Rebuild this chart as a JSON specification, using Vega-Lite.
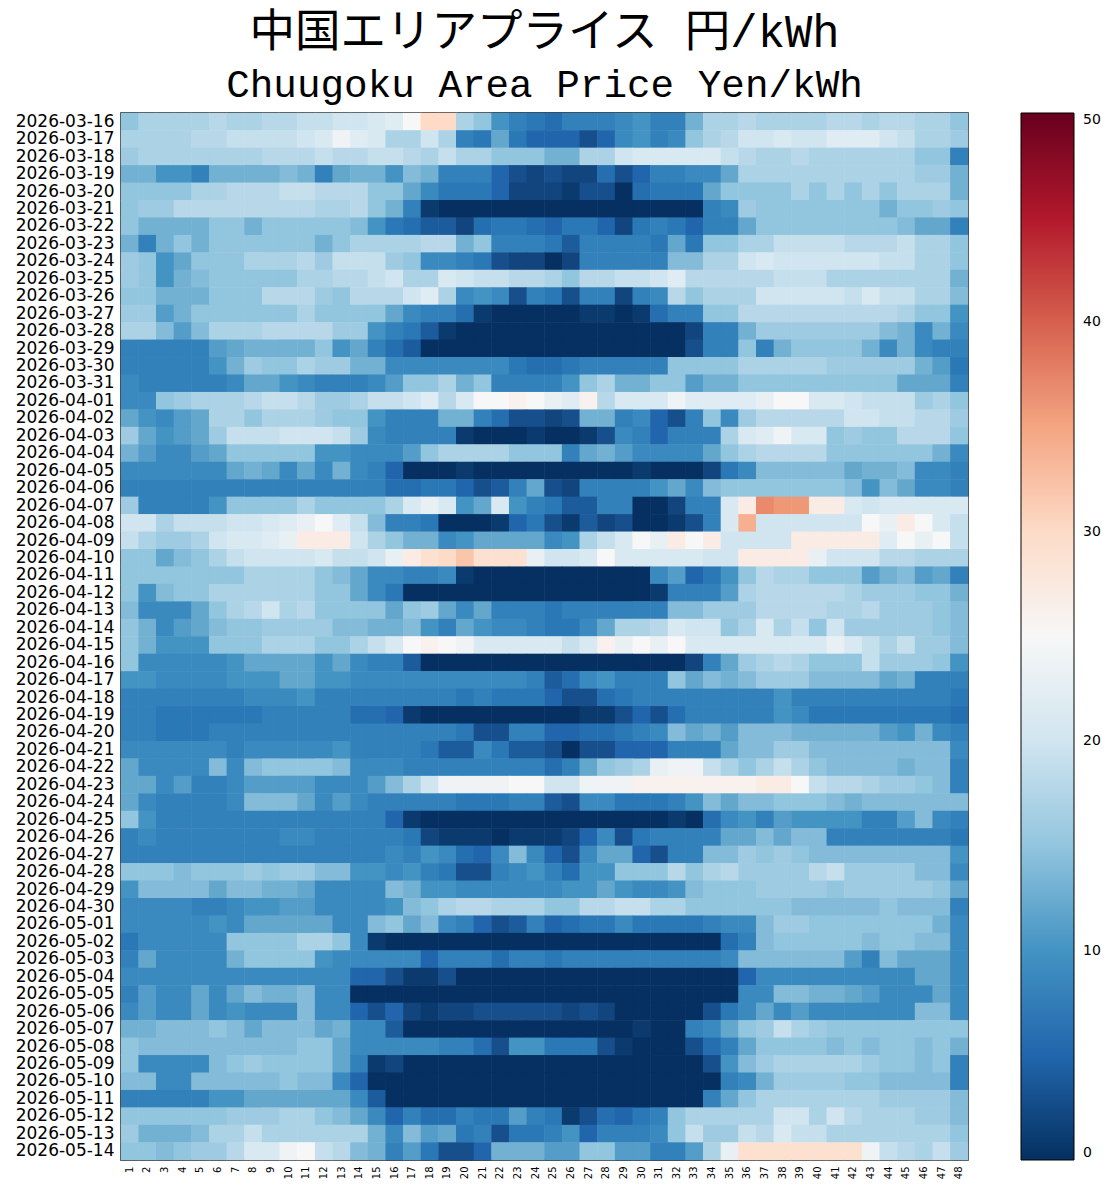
{"$schema":"https://vega.github.io/schema/vega-lite/v6.json","width":847,"height":1047,"autosize":{"type":"none"},"padding":{"left":121,"top":113,"right":142,"bottom":29},"background":"white","view":{"stroke":"black","strokeWidth":1.5},
"title":{"text":"中国エリアプライス 円/kWh","subtitle":"Chuugoku Area Price Yen/kWh","font":"Liberation Mono, Noto Sans CJK JP","fontSize":45.5,"fontWeight":"normal","color":"black","subtitleFont":"Liberation Mono","subtitleFontSize":39.3,"subtitleColor":"black","subtitlePadding":9,"anchor":"middle","offset":7},
"data":{"values":[
{"d":"2026-03-16","v":[15,17,17,17,17,18,17,17,18,18,19,19,20,20,21,22,25,30,30,17,15,10,8,7,6,8,8,8,9,10,8,8,13,17,17,18,17,17,17,17,18,18,17,18,18,17,17,15]},
{"d":"2026-03-17","v":[17,17,17,17,18,18,19,19,19,19,20,21,24,22,21,17,17,20,17,8,7,12,7,5,5,5,3,5,9,10,8,9,15,17,18,20,20,21,20,20,22,22,22,20,19,17,17,16]},
{"d":"2026-03-18","v":[16,17,17,17,17,17,17,17,18,18,18,19,18,18,19,19,18,17,19,17,17,15,15,15,13,13,17,17,20,21,21,21,21,21,19,18,17,17,18,17,17,17,17,17,17,15,15,8]},
{"d":"2026-03-19","v":[13,13,10,10,8,13,13,13,13,14,13,8,12,13,13,10,14,13,8,8,8,5,3,2,3,2,2,6,3,5,8,8,9,9,12,17,17,17,17,17,17,17,17,17,17,16,16,13]},
{"d":"2026-03-20","v":[15,15,15,15,17,17,18,18,18,19,19,18,18,18,15,15,12,9,7,7,7,5,2,2,2,1,3,3,0,6,7,7,7,12,15,15,15,15,17,15,17,15,17,15,17,17,17,13]},
{"d":"2026-03-21","v":[15,16,16,18,18,18,18,18,18,18,18,17,17,18,15,13,8,1,0,0,0,0,0,0,0,0,0,0,0,0,0,0,0,8,9,16,15,15,15,15,15,15,15,13,15,15,16,15]},
{"d":"2026-03-22","v":[15,13,13,13,13,15,15,13,15,15,15,15,15,14,10,7,6,4,4,2,6,7,7,6,5,7,7,5,2,7,8,7,5,8,8,12,15,15,15,15,15,15,15,15,14,12,12,8]},
{"d":"2026-03-23","v":[13,8,13,15,13,15,15,15,15,15,15,13,15,17,17,17,17,18,18,13,15,8,8,8,7,4,8,8,8,8,7,12,7,15,15,17,17,19,19,19,19,18,18,18,19,17,17,15]},
{"d":"2026-03-24","v":[16,15,10,12,15,15,15,17,17,17,18,16,19,19,19,16,15,9,9,8,7,3,2,2,0,2,8,8,8,8,8,14,14,17,17,20,21,20,20,20,20,20,20,19,19,17,17,15]},
{"d":"2026-03-25","v":[16,15,10,13,14,15,15,15,15,15,17,17,18,18,19,20,17,17,21,20,19,19,18,18,17,15,18,18,19,19,20,22,18,18,18,18,18,19,19,19,17,17,17,17,17,17,17,13]},
{"d":"2026-03-26","v":[15,15,13,13,13,15,15,15,18,18,18,16,15,18,18,18,20,22,17,9,10,9,3,8,7,3,8,8,2,8,9,18,15,17,17,17,20,20,20,20,20,19,21,19,19,17,17,14]},
{"d":"2026-03-27","v":[16,16,11,13,15,15,15,15,15,15,17,15,15,15,15,12,9,8,8,6,1,0,0,0,0,0,1,1,0,1,6,8,8,15,15,18,18,18,18,18,18,18,18,18,17,15,15,10]},
{"d":"2026-03-28","v":[17,17,14,11,14,17,17,17,18,18,18,18,16,16,10,8,7,4,1,0,0,0,0,0,0,0,0,0,0,0,0,0,2,8,8,13,16,16,16,16,16,16,16,14,13,9,13,9]},
{"d":"2026-03-29","v":[8,8,8,8,8,11,12,13,13,13,13,15,10,12,8,6,4,0,0,0,0,0,0,0,0,0,0,0,0,0,0,0,3,8,8,15,8,13,15,15,15,15,13,9,13,9,8,8]},
{"d":"2026-03-30","v":[8,8,8,8,8,10,13,16,15,15,17,16,16,13,13,9,9,9,9,9,9,9,7,6,6,7,8,8,8,8,8,15,15,15,15,17,17,17,17,17,16,16,16,16,16,13,11,7]},
{"d":"2026-03-31","v":[9,8,8,8,8,8,9,12,12,10,9,8,8,8,9,11,15,15,17,13,15,8,8,8,8,10,15,17,13,13,15,15,11,13,13,15,15,15,15,15,15,15,15,15,12,12,12,8]},
{"d":"2026-04-01","v":[9,9,15,16,17,17,17,18,19,19,18,16,16,17,19,19,20,22,18,21,25,25,26,25,23,22,26,18,21,21,21,24,22,22,22,22,23,25,25,21,21,20,19,19,19,16,17,15]},
{"d":"2026-04-02","v":[12,10,9,11,12,17,17,15,17,17,17,16,15,15,10,8,8,8,13,13,8,6,3,3,2,3,13,13,8,9,5,3,8,15,9,16,18,18,18,18,18,20,20,19,19,18,18,16]},
{"d":"2026-04-03","v":[16,12,10,11,12,16,19,19,19,20,20,20,19,16,9,8,8,8,8,1,0,0,0,1,0,0,1,3,9,8,5,8,8,8,17,21,22,24,21,21,15,16,15,15,18,18,18,15]},
{"d":"2026-04-04","v":[13,11,9,9,11,12,15,15,15,15,15,10,10,9,9,9,11,15,17,17,17,17,15,15,15,8,12,13,11,9,9,9,9,12,15,17,18,18,18,18,15,15,15,15,15,15,13,9]},
{"d":"2026-04-05","v":[9,9,9,9,9,9,12,13,12,9,12,9,13,9,8,5,0,0,0,1,0,0,0,0,0,0,0,0,0,1,0,0,0,2,7,9,14,14,14,14,14,12,13,13,14,9,9,8]},
{"d":"2026-04-06","v":[8,8,8,8,8,8,8,8,8,8,8,8,8,8,8,6,6,7,7,5,3,4,8,12,3,2,8,8,8,8,10,12,9,14,15,15,15,15,15,15,15,14,10,14,12,9,9,8]},
{"d":"2026-04-07","v":[16,8,8,8,8,10,15,15,15,15,17,15,15,15,15,17,21,23,21,10,12,21,10,8,7,4,4,8,8,0,0,2,8,8,21,27,37,36,36,27,27,21,20,21,21,21,21,21]},
{"d":"2026-04-08","v":[20,20,17,19,19,19,20,20,21,22,23,25,22,19,14,8,8,7,0,0,0,1,5,7,3,1,4,2,3,0,0,1,3,8,21,34,20,20,20,20,20,20,25,23,27,25,21,19]},
{"d":"2026-04-09","v":[19,17,16,16,17,20,21,21,22,23,27,27,27,20,17,15,13,13,9,10,12,12,12,12,9,10,17,19,21,25,23,27,25,27,20,20,20,20,27,27,27,27,27,22,25,23,25,19]},
{"d":"2026-04-10","v":[15,15,12,14,15,17,19,20,20,20,20,21,19,19,20,23,27,29,30,32,29,29,29,23,20,20,21,25,21,21,21,21,21,20,20,27,27,27,27,23,20,20,20,18,18,17,17,17]},
{"d":"2026-04-11","v":[15,15,15,15,15,15,15,17,17,17,17,15,14,12,9,9,8,8,9,1,0,0,0,0,0,0,0,0,0,0,9,11,5,7,10,15,18,17,17,15,15,15,11,13,14,11,12,8]},
{"d":"2026-04-12","v":[15,10,14,15,15,17,17,17,17,17,17,15,15,12,9,7,0,0,0,0,0,0,0,0,0,0,0,0,0,0,1,8,8,8,11,17,18,18,18,18,18,17,16,16,16,15,15,13]},
{"d":"2026-04-13","v":[14,9,9,9,12,15,17,18,20,17,18,15,15,15,15,12,15,16,12,9,12,8,8,8,7,8,8,8,8,8,8,14,14,16,16,16,18,18,18,18,17,17,18,16,16,16,15,14]},
{"d":"2026-04-14","v":[15,13,9,11,12,14,15,15,16,16,16,16,14,14,13,13,14,10,8,12,10,9,9,8,7,7,9,12,17,17,18,21,20,20,15,17,21,17,19,15,20,16,16,16,16,16,15,14]},
{"d":"2026-04-15","v":[15,13,10,10,10,15,15,15,17,17,17,15,15,17,19,21,25,26,25,24,21,21,21,21,21,19,21,26,23,25,23,25,21,21,21,21,21,21,21,21,23,21,19,17,19,16,16,14]},
{"d":"2026-04-16","v":[15,9,9,9,9,9,10,12,12,12,12,10,12,9,8,8,4,0,0,0,0,0,0,0,0,0,0,0,0,0,0,0,2,8,12,16,17,18,17,15,15,15,19,16,16,16,15,10]},
{"d":"2026-04-17","v":[10,10,9,9,9,9,10,10,10,12,12,10,10,9,9,9,9,9,9,9,9,9,9,8,4,6,9,10,8,8,8,15,12,14,13,14,16,16,16,14,14,14,14,12,13,8,8,8]},
{"d":"2026-04-18","v":[8,8,8,8,8,8,8,9,9,9,10,8,8,8,8,8,8,8,8,7,8,7,7,7,5,3,3,6,7,8,8,8,8,8,8,8,8,10,8,8,8,8,8,8,8,8,8,7]},
{"d":"2026-04-19","v":[8,8,7,7,7,7,7,7,8,8,8,8,8,6,6,5,1,0,0,0,0,0,0,0,0,0,1,1,3,5,3,6,8,8,8,8,8,10,9,7,7,7,7,7,7,7,7,6]},
{"d":"2026-04-20","v":[8,8,7,7,7,8,8,8,8,8,8,8,8,8,8,8,8,8,8,7,3,3,8,8,5,5,6,6,7,8,9,14,12,13,11,14,14,14,13,13,13,13,13,11,10,13,9,8]},
{"d":"2026-04-21","v":[9,9,9,9,9,9,8,9,9,9,9,9,10,8,8,8,8,7,4,4,9,7,4,4,3,0,3,3,5,5,5,8,8,8,12,14,14,16,16,14,14,14,14,14,14,14,14,9]},
{"d":"2026-04-22","v":[12,9,9,9,9,14,9,14,15,15,15,15,14,9,9,9,8,8,8,8,8,8,8,8,6,8,12,15,16,17,23,24,24,19,17,15,17,19,17,15,14,14,14,14,13,14,14,8]},
{"d":"2026-04-23","v":[12,12,9,11,8,8,9,11,11,11,11,9,9,9,11,14,17,20,24,24,24,24,25,25,20,20,24,24,24,26,26,26,26,26,26,26,27,27,25,19,18,18,17,16,16,15,14,8]},
{"d":"2026-04-24","v":[12,9,8,8,8,8,9,14,14,14,12,9,11,9,8,8,8,8,8,7,7,7,8,8,4,3,9,9,7,7,7,8,10,14,12,14,14,15,15,15,14,13,14,14,14,14,14,14]},
{"d":"2026-04-25","v":[15,10,8,8,8,8,8,8,8,8,8,8,8,8,8,5,1,0,0,0,0,0,0,0,0,0,0,0,0,0,0,1,0,6,9,10,8,11,10,10,10,10,8,8,11,14,9,8]},
{"d":"2026-04-26","v":[8,9,8,8,8,8,8,8,8,9,9,8,8,8,8,8,7,2,1,1,1,0,1,1,1,2,5,9,3,7,8,8,8,8,12,12,14,12,14,14,8,8,8,8,8,8,8,7]},
{"d":"2026-04-27","v":[8,8,8,8,8,8,8,8,8,8,8,8,8,8,8,9,8,10,9,6,5,9,14,9,5,3,9,12,12,5,3,8,8,14,14,16,15,16,15,14,14,14,14,14,14,14,14,10]},
{"d":"2026-04-28","v":[15,15,15,14,15,15,15,16,15,16,16,14,14,10,10,9,10,8,7,3,3,8,9,10,8,6,10,10,15,15,15,18,15,17,18,16,16,16,16,18,19,16,16,16,16,14,14,9]},
{"d":"2026-04-29","v":[10,14,14,14,14,12,14,14,13,13,12,9,9,9,9,14,13,10,10,9,9,9,9,9,9,10,10,12,10,9,9,10,14,15,15,15,16,16,16,16,15,16,16,16,16,16,15,12]},
{"d":"2026-04-30","v":[9,9,9,9,8,8,9,10,10,11,11,9,9,9,9,10,14,15,17,18,18,17,17,17,15,15,18,18,19,19,17,17,15,15,15,15,15,15,14,14,14,14,14,15,14,14,14,8]},
{"d":"2026-05-01","v":[9,9,9,9,9,10,9,12,12,12,12,12,9,9,14,15,12,14,9,8,5,3,4,8,5,6,7,7,9,7,7,7,7,8,9,9,14,16,16,15,15,15,15,15,15,15,13,9]},
{"d":"2026-05-02","v":[7,9,9,9,9,9,15,15,15,15,17,17,15,9,1,0,0,0,0,0,0,0,0,0,0,0,0,0,0,0,0,0,0,0,6,8,14,15,15,15,15,15,14,15,15,14,14,9]},
{"d":"2026-05-03","v":[8,12,9,9,9,9,13,15,15,15,15,10,9,9,9,9,9,5,8,8,8,6,8,8,7,8,8,8,8,8,8,8,8,8,9,14,14,14,14,14,14,11,8,14,12,12,12,9]},
{"d":"2026-05-04","v":[9,9,9,9,9,9,9,9,9,9,9,9,9,5,5,3,1,1,3,0,0,0,0,0,0,0,0,0,0,0,0,0,0,0,0,5,9,9,9,9,9,9,9,9,9,12,12,9]},
{"d":"2026-05-05","v":[8,11,9,9,12,9,12,14,13,13,14,9,9,0,0,0,0,0,0,0,0,0,0,0,0,0,0,0,0,0,0,0,0,0,0,9,9,14,14,13,13,12,11,9,9,9,12,9]},
{"d":"2026-05-06","v":[9,11,9,9,12,9,10,9,9,9,14,9,9,5,3,5,2,1,2,2,3,3,3,3,3,2,3,2,0,0,0,0,0,3,7,9,12,9,11,9,9,9,9,9,9,14,14,9]},
{"d":"2026-05-07","v":[13,13,14,14,14,15,14,12,14,14,14,12,13,9,9,4,0,0,0,0,0,0,0,0,0,0,0,0,0,1,0,0,8,9,12,15,16,19,17,16,15,15,15,15,15,15,15,15]},
{"d":"2026-05-08","v":[15,14,14,14,14,14,14,14,14,14,15,15,12,9,9,9,9,9,8,8,6,3,10,10,7,7,7,3,1,0,0,0,3,6,8,12,15,15,15,15,14,15,14,15,15,14,15,13]},
{"d":"2026-05-09","v":[15,9,9,9,9,14,15,16,15,15,15,15,12,8,1,2,0,0,0,0,0,0,0,0,0,0,0,0,0,0,0,0,0,3,10,14,16,17,17,17,17,17,16,15,15,14,15,8]},
{"d":"2026-05-10","v":[14,14,9,9,14,14,14,14,14,15,14,14,9,5,0,0,0,0,0,0,0,0,0,0,0,0,0,0,0,0,0,0,0,0,8,9,13,16,16,16,16,15,15,14,14,14,14,8]},
{"d":"2026-05-11","v":[8,8,8,8,8,10,10,12,12,12,12,12,12,9,4,0,0,0,0,0,0,0,0,0,0,0,0,0,0,0,0,0,0,8,12,15,17,17,17,17,17,17,17,16,16,16,16,14]},
{"d":"2026-05-12","v":[15,15,15,15,15,15,16,16,16,17,17,15,14,12,9,5,8,6,6,8,7,7,11,8,7,1,3,6,5,7,8,15,17,17,17,17,17,20,20,17,20,18,17,17,17,16,16,14]},
{"d":"2026-05-13","v":[16,13,13,13,14,17,17,19,17,17,17,17,17,17,13,9,14,11,12,7,8,3,7,7,8,10,5,8,8,8,9,15,19,16,16,19,18,21,19,19,17,17,17,17,17,17,17,15]},
{"d":"2026-05-14","v":[15,15,14,15,16,16,18,21,21,24,25,19,18,14,13,8,11,7,3,3,5,13,13,13,11,11,15,15,11,11,8,8,11,17,23,29,29,29,29,29,29,29,24,19,18,17,19,16]}
]},
"transform":[{"flatten":["v"]},{"window":[{"op":"row_number","as":"s"}],"groupby":["d"]}],
"mark":{"type":"rect","opacity":1,"width":{"band":1.03},"height":{"band":1.03}},
"encoding":{
"x":{"field":"s","type":"ordinal","title":null,"scale":{"paddingInner":0,"paddingOuter":0},"axis":{"labelAngle":-90,"labelFontSize":10,"labelFont":"DejaVu Sans","labelColor":"black","ticks":false,"labelPadding":6,"domain":false,"labelBaseline":"middle","labelAlign":"right"}},
"y":{"field":"d","type":"ordinal","title":null,"scale":{"paddingInner":0,"paddingOuter":0},"axis":{"labelFontSize":17,"labelFont":"DejaVu Sans","labelColor":"black","ticks":false,"labelPadding":7,"domain":false,"labelOverlap":false}},
"color":{"field":"v","type":"quantitative","scale":{"domain":[0,5,10,15,20,25,30,35,40,45,50],"range":["#053061","#2166ac","#4393c3","#92c5de","#d1e5f0","#f7f7f7","#fddbc7","#f4a582","#d6604d","#b2182b","#67001f"]},"legend":{"type":"gradient","title":null,"orient":"right","offset":53,"gradientLength":1047,"gradientThickness":53,"gradientStrokeColor":"black","gradientStrokeWidth":1,"labelFontSize":14,"labelFont":"DejaVu Sans","labelColor":"black","labelOffset":9,"values":[0,10,20,30,40,50]}}
}}
